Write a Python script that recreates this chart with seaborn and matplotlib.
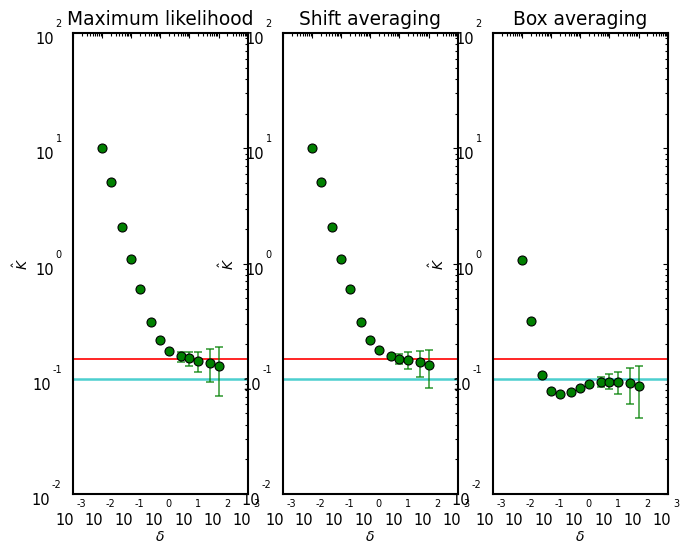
import numpy as np
import pandas as pd
import matplotlib
matplotlib.use("Agg")
import matplotlib.pyplot as plt
import matplotlib.transforms as mtransforms
from matplotlib.ticker import LogLocator, NullFormatter
import seaborn as sns

# Bin width delta and the estimated K-hat for each estimator
delta = [0.01, 0.02, 0.05, 0.1, 0.2, 0.5, 1, 2, 5, 10, 20, 50, 100]
titles = ["Maximum likelihood", "Shift averaging", "Box averaging"]

k_ml = [10.1, 5.1, 2.08, 1.10, 0.60, 0.309, 0.217, 0.175, 0.157, 0.150, 0.1435, 0.1377, 0.1297]
k_ml_lo = [10.1, 5.1, 2.08, 1.10, 0.60, 0.309, 0.217, 0.175, 0.1396, 0.1297, 0.1138, 0.0937, 0.0708]
k_ml_hi = [10.1, 5.1, 2.08, 1.10, 0.60, 0.309, 0.217, 0.175, 0.169, 0.169, 0.1718, 0.1825, 0.1875]

k_shift = [10.1, 5.1, 2.08, 1.10, 0.604, 0.309, 0.217, 0.1766, 0.157, 0.149, 0.1445, 0.139, 0.131]
k_shift_lo = [10.1, 5.1, 2.08, 1.10, 0.604, 0.309, 0.217, 0.1766, 0.157, 0.1334, 0.1208, 0.103, 0.0826]
k_shift_hi = [10.1, 5.1, 2.08, 1.10, 0.604, 0.309, 0.217, 0.1766, 0.157, 0.165, 0.1695, 0.175, 0.1786]

k_box = [1.07, 0.317, 0.108, 0.0787, 0.0738, 0.0768, 0.0826, 0.0895, 0.0942, 0.0942, 0.0942, 0.0912, 0.0871]
k_box_lo = [1.07, 0.317, 0.108, 0.0787, 0.0738, 0.0768, 0.0826, 0.0895, 0.0853, 0.081, 0.0738, 0.0604, 0.0454]
k_box_hi = [1.07, 0.317, 0.108, 0.0787, 0.0738, 0.0768, 0.0826, 0.0895, 0.104, 0.1094, 0.115, 0.123, 0.128]

# Reference levels
k_red = 0.1476
k_cyan = 0.1

x_decades = [-3, -2, -1, 0, 1, 2, 3]
y_decades = [-2, -1, 0, 1, 2]

sns.set_theme(style="white")
plt.rcParams["font.family"] = ["DejaVu Sans"]
plt.rcParams["mathtext.fontset"] = "dejavusans"
plt.rcParams["text.color"] = "black"
plt.rcParams["axes.labelcolor"] = "black"

fig, axes = plt.subplots(1, 3, figsize=(6.8, 5.45), dpi=100)
fig.subplots_adjust(left=0.107, right=0.982, top=0.9394, bottom=0.0936, wspace=0.2)

series = [(k_ml, k_ml_lo, k_ml_hi), (k_shift, k_shift_lo, k_shift_hi), (k_box, k_box_lo, k_box_hi)]
ylabel_x = [-0.24, -0.26, -0.26]

for ax, title, (k, lo, hi), ylx in zip(axes, titles, series, ylabel_x):
    df = pd.DataFrame({"delta": delta, "K": k, "lo": lo, "hi": hi})
    ax.set_xscale("log")
    ax.set_yscale("log")
    ax.axhline(k_red, color="#ff0000", lw=1.2, zorder=1)
    ax.axhline(k_cyan, color="#4ccfcf", lw=1.8, zorder=1)
    yerr = np.vstack([df["K"] - df["lo"], df["hi"] - df["K"]])
    ax.errorbar(df["delta"], df["K"], yerr=yerr, fmt="none", ecolor="green",
                alpha=0.75, elinewidth=1.2, capsize=2.6, capthick=1.2, zorder=2)
    sns.scatterplot(data=df, x="delta", y="K", ax=ax, color="green", edgecolor="black",
                    linewidth=0.8, s=42, zorder=3, legend=False)
    ax.set_xlim(10.0 ** x_decades[0], 10.0 ** x_decades[-1])
    ax.set_ylim(10.0 ** y_decades[0], 10.0 ** y_decades[-1])
    ax.xaxis.set_major_locator(LogLocator(base=10, numticks=20))
    ax.yaxis.set_major_locator(LogLocator(base=10, numticks=20))
    ax.xaxis.set_minor_locator(LogLocator(base=10, subs=np.arange(2, 10), numticks=100))
    ax.yaxis.set_minor_locator(LogLocator(base=10, subs=np.arange(2, 10), numticks=100))
    ax.xaxis.set_major_formatter(NullFormatter())
    ax.yaxis.set_major_formatter(NullFormatter())
    ax.xaxis.set_minor_formatter(NullFormatter())
    ax.yaxis.set_minor_formatter(NullFormatter())
    ax.tick_params(which="both", direction="in", top=True, right=True, color="black", width=0.8)
    ax.tick_params(which="major", length=3.8)
    ax.tick_params(which="minor", length=2.0)
    for sp in ax.spines.values():
        sp.set_visible(True)
        sp.set_color("black")
        sp.set_linewidth(1.5)
    ax.set_title(title, fontsize=13.4, pad=6, color="black")
    ax.set_xlabel(r"$\delta$", fontsize=10)
    ax.set_ylabel(r"$\hat{K}$", fontsize=10)
    ax.xaxis.set_label_coords(0.5, -0.078)
    ax.yaxis.set_label_coords(ylx, 0.5)

# Power-of-ten tick labels drawn as a base "10" with a raised exponent
renderer = fig.canvas.get_renderer()
base_fs = 10.5
exp_fs = 7

def add_text(ax, x, y, s, trans, dx, dy, fs):
    t = ax.text(x, y, s, transform=mtransforms.offset_copy(trans, fig=fig, x=dx, y=dy, units="dots"),
                ha="left", va="baseline", fontsize=fs, color="black", clip_on=False)
    return t

probe = fig.text(0, 0, "10", fontsize=base_fs)
w10 = probe.get_window_extent(renderer).width
probe.remove()

for ax in axes:
    ytrans = ax.get_yaxis_transform()
    for e in y_decades:
        v = 10.0 ** e
        t_exp = ax.text(0, v, str(e), fontsize=exp_fs, ha="left", va="baseline")
        wexp = t_exp.get_window_extent(renderer).width
        t_exp.remove()
        add_text(ax, 0, v, str(e), ytrans, -11 - wexp, 6, exp_fs)
        add_text(ax, 0, v, "10", ytrans, -11 - wexp - 1.5 - w10, -11, base_fs)
    xtrans = ax.get_xaxis_transform()
    for e in x_decades:
        v = 10.0 ** e
        t_exp = ax.text(v, 0, str(e), fontsize=exp_fs, ha="left", va="baseline")
        wexp = t_exp.get_window_extent(renderer).width
        t_exp.remove()
        left = -2 - (w10 + 2 + wexp) / 2
        add_text(ax, v, 0, "10", xtrans, left, -31, base_fs)
        add_text(ax, v, 0, str(e), xtrans, left + w10 + 2, -13, exp_fs)

fig.savefig("out.png", dpi=100)
